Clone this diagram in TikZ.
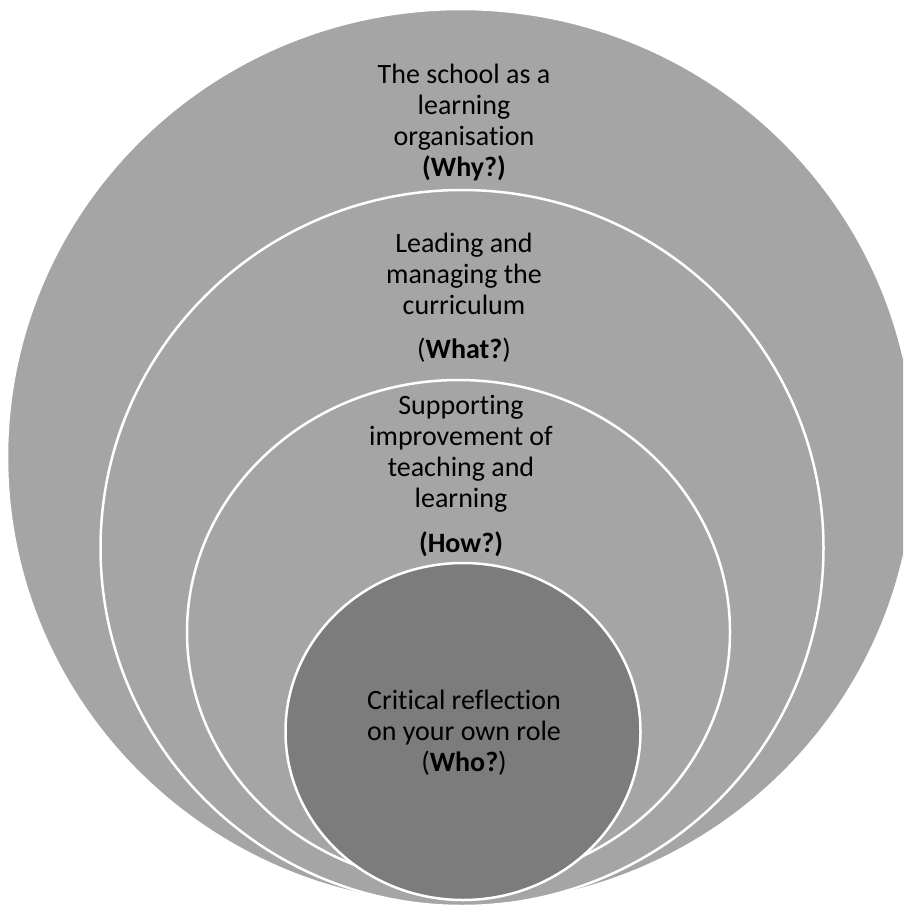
\documentclass[tikz,border=0pt]{standalone}
\usepackage{fontspec}
\setmainfont{Carlito}[Ligatures=NoCommon]
\definecolor{ringgray}{RGB}{165,165,165}
\definecolor{coregray}{RGB}{124,124,124}
\begin{document}
\begin{tikzpicture}[x=1pt,y=-1pt,
  ring/.style={fill=ringgray, draw=white, line width=2.5pt},
  core/.style={fill=coregray, draw=white, line width=2.5pt},
  lbl/.style={anchor=base, inner sep=0pt, font=\fontsize{28}{31}\selectfont, text=black}]
\useasboundingbox (0,0) rectangle (903,910);
\clip (0,0) rectangle (903,910);

% nested rings, largest first
\path[ring] (461,457) ellipse [x radius=454pt, y radius=448pt];
\path[ring] (462,548) ellipse [x radius=361.5pt, y radius=358pt];
\path[ring] (458.5,632) ellipse [x radius=271.5pt, y radius=252pt];
\path[core] (463,731.5) ellipse [x radius=177.5pt, y radius=168.5pt];

% outer ring: why
\node[lbl] (why1) at (464,83)  {The school as a};
\node[lbl] (why2) at (464,114) {learning};
\node[lbl] (why3) at (464,145) {organisation};
\node[lbl] (why4) at (464,176) {\bfseries (Why?)};

% second ring: what
\node[lbl] (what1) at (464,252) {Leading and};
\node[lbl] (what2) at (464,283) {managing the};
\node[lbl] (what3) at (464,314) {curriculum};
\node[lbl] (what4) at (464,358) {(\textbf{What?})};

% third ring: how
\node[lbl] (how1) at (461,414) {Supporting};
\node[lbl] (how2) at (461,445) {improvement of};
\node[lbl] (how3) at (461,476) {teaching and};
\node[lbl] (how4) at (461,507) {learning};
\node[lbl] (how5) at (461,552) {\bfseries (How?)};

% core: who
\node[lbl] (who1) at (464,709) {Critical reflection};
\node[lbl] (who2) at (464,740) {on your own role};
\node[lbl] (who3) at (464,771) {(\textbf{Who?})};
\end{tikzpicture}
\end{document}
